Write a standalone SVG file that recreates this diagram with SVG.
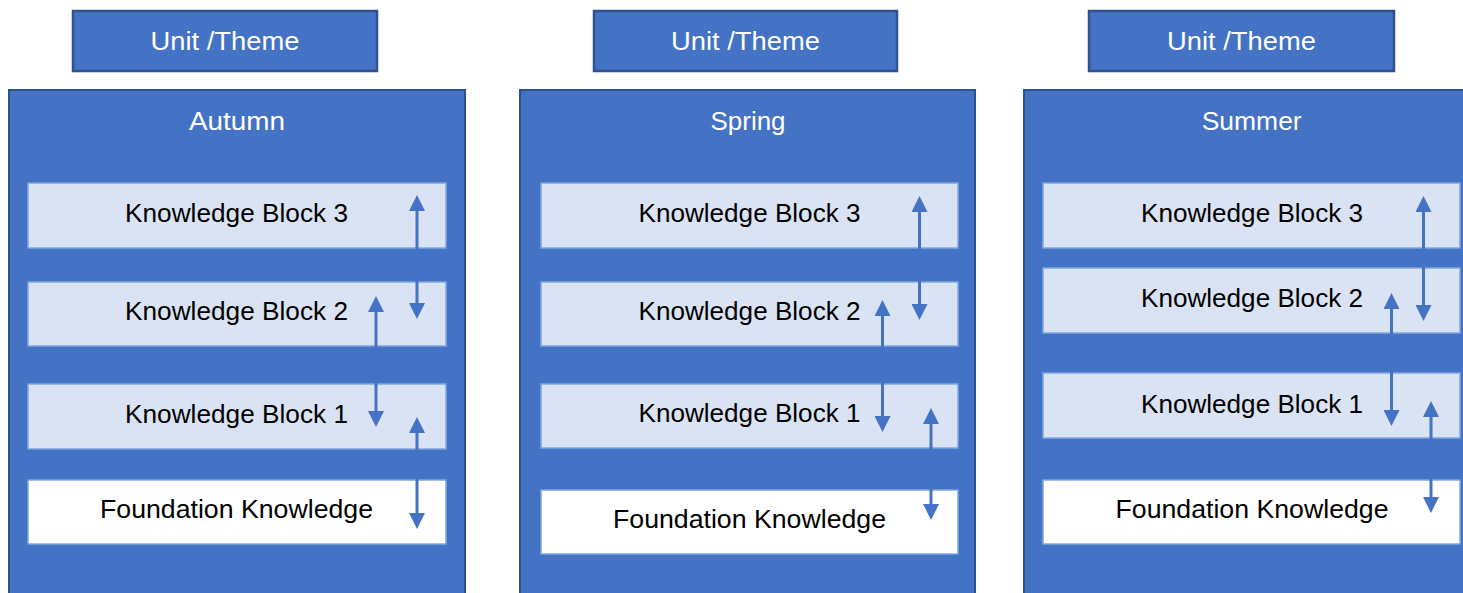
<svg xmlns="http://www.w3.org/2000/svg" width="1463" height="593" viewBox="0 0 1463 593">
  <style>
    .theme { fill: #4472C4; stroke: #2F528F; stroke-width: 2.5; }
    .term { fill: #4472C4; stroke: #2F528F; stroke-width: 2; }
    .block { fill: #DAE3F3; stroke: #7FA6DD; stroke-width: 1.5; }
    .base { fill: #FFFFFF; stroke: #7FA6DD; stroke-width: 1.5; }
    text { font-family: "Liberation Sans", Arial, sans-serif; font-size: 25px; text-anchor: middle; }
    .light { fill: #FFFFFF; }
    .dark { fill: #000000; }
    .link { stroke: #4472C4; stroke-width: 3; fill: none; marker-start: url(#head); marker-end: url(#head); }
  </style>
  <defs>
    <marker id="head" viewBox="0 0 16 16" refX="6" refY="8" markerWidth="16" markerHeight="16" markerUnits="userSpaceOnUse" orient="auto-start-reverse">
      <path d="M0,0 L16,8 L0,16 z" fill="#4472C4"/>
    </marker>
  </defs>

  <rect width="1463" height="593" fill="#FFFFFF"/>

  <!-- Autumn column -->
  <g id="theme-autumn">
    <rect class="theme" x="73" y="11" width="304" height="60"/>
    <text class="light" x="225" y="50" textLength="149" lengthAdjust="spacingAndGlyphs">Unit /Theme</text>
  </g>
  <g id="term-autumn">
    <rect class="term" x="9" y="90" width="456" height="530"/>
    <text class="light" x="237" y="130" textLength="96" lengthAdjust="spacingAndGlyphs">Autumn</text>
  </g>
  <g id="autumn-kb3">
    <rect class="block" x="28" y="183" width="418" height="65"/>
    <text class="dark" x="236.5" y="222" textLength="223" lengthAdjust="spacingAndGlyphs">Knowledge Block 3</text>
  </g>
  <g id="autumn-kb2">
    <rect class="block" x="28" y="282" width="418" height="64"/>
    <text class="dark" x="236.5" y="320" textLength="223" lengthAdjust="spacingAndGlyphs">Knowledge Block 2</text>
  </g>
  <g id="autumn-kb1">
    <rect class="block" x="28" y="384" width="418" height="65"/>
    <text class="dark" x="236.5" y="422.5" textLength="223" lengthAdjust="spacingAndGlyphs">Knowledge Block 1</text>
  </g>
  <g id="autumn-foundation">
    <rect class="base" x="28" y="480" width="418" height="64"/>
    <text class="dark" x="236.5" y="518" textLength="273" lengthAdjust="spacingAndGlyphs">Foundation Knowledge</text>
  </g>

  <!-- Spring column -->
  <g id="theme-spring">
    <rect class="theme" x="594" y="11" width="303" height="60"/>
    <text class="light" x="745.5" y="50" textLength="149" lengthAdjust="spacingAndGlyphs">Unit /Theme</text>
  </g>
  <g id="term-spring">
    <rect class="term" x="520" y="90" width="455" height="530"/>
    <text class="light" x="748" y="130" textLength="75" lengthAdjust="spacingAndGlyphs">Spring</text>
  </g>
  <g id="spring-kb3">
    <rect class="block" x="541" y="183" width="417" height="65"/>
    <text class="dark" x="749.5" y="222" textLength="222" lengthAdjust="spacingAndGlyphs">Knowledge Block 3</text>
  </g>
  <g id="spring-kb2">
    <rect class="block" x="541" y="282" width="417" height="64"/>
    <text class="dark" x="749.5" y="320" textLength="222" lengthAdjust="spacingAndGlyphs">Knowledge Block 2</text>
  </g>
  <g id="spring-kb1">
    <rect class="block" x="541" y="384" width="417" height="64"/>
    <text class="dark" x="749.5" y="422" textLength="222" lengthAdjust="spacingAndGlyphs">Knowledge Block 1</text>
  </g>
  <g id="spring-foundation">
    <rect class="base" x="541" y="490" width="417" height="64"/>
    <text class="dark" x="749.5" y="528" textLength="273" lengthAdjust="spacingAndGlyphs">Foundation Knowledge</text>
  </g>

  <!-- Summer column -->
  <g id="theme-summer">
    <rect class="theme" x="1089" y="11" width="305" height="60"/>
    <text class="light" x="1241.5" y="50" textLength="149" lengthAdjust="spacingAndGlyphs">Unit /Theme</text>
  </g>
  <g id="term-summer">
    <rect class="term" x="1024" y="90" width="470" height="530"/>
    <text class="light" x="1251.7" y="130" textLength="100" lengthAdjust="spacingAndGlyphs">Summer</text>
  </g>
  <g id="summer-kb3">
    <rect class="block" x="1043" y="183" width="417" height="65"/>
    <text class="dark" x="1252" y="222" textLength="222" lengthAdjust="spacingAndGlyphs">Knowledge Block 3</text>
  </g>
  <g id="summer-kb2">
    <rect class="block" x="1043" y="268" width="417" height="65"/>
    <text class="dark" x="1252" y="307" textLength="222" lengthAdjust="spacingAndGlyphs">Knowledge Block 2</text>
  </g>
  <g id="summer-kb1">
    <rect class="block" x="1043" y="373" width="417" height="65"/>
    <text class="dark" x="1252" y="412.5" textLength="222" lengthAdjust="spacingAndGlyphs">Knowledge Block 1</text>
  </g>
  <g id="summer-foundation">
    <rect class="base" x="1043" y="480" width="417" height="64"/>
    <text class="dark" x="1252" y="518" textLength="273" lengthAdjust="spacingAndGlyphs">Foundation Knowledge</text>
  </g>

  <!-- two-way links between neighbouring blocks -->
  <g id="connectors">
    <line class="link" x1="417" y1="205" x2="417" y2="309"/>
    <line class="link" x1="376" y1="306" x2="376" y2="417"/>
    <line class="link" x1="417" y1="427" x2="417" y2="519"/>

    <line class="link" x1="919.5" y1="206" x2="919.5" y2="310"/>
    <line class="link" x1="882.5" y1="310" x2="882.5" y2="422"/>
    <line class="link" x1="931" y1="418" x2="931" y2="510"/>

    <line class="link" x1="1423.5" y1="206" x2="1423.5" y2="311"/>
    <line class="link" x1="1391.5" y1="303" x2="1391.5" y2="416"/>
    <line class="link" x1="1431" y1="411" x2="1431" y2="503"/>
  </g>
</svg>
